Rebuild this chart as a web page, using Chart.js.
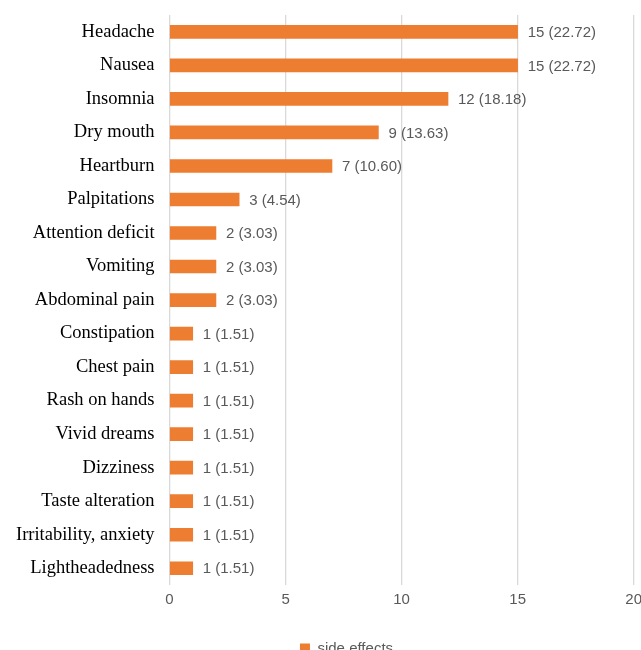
<!DOCTYPE html>
<html>
<head>
<meta charset="utf-8">
<script src="https://cdn.jsdelivr.net/npm/chart.js@4"></script>
<style>
  body { margin: 0; background: #fff; }
  #wrap { width: 641px; height: 650px; overflow: hidden; }
  #sideChart { display: block; margin-top: -3px; }
</style>
</head>
<body>
<div id="wrap"><canvas id="sideChart" width="648" height="669"></canvas></div>
<script>
// Side effects data
const categories = ['Headache', 'Nausea', 'Insomnia', 'Dry mouth', 'Heartburn', 'Palpitations',
    'Attention deficit', 'Vomiting', 'Abdominal pain', 'Constipation', 'Chest pain', 'Rash on hands',
    'Vivid dreams', 'Dizziness', 'Taste alteration', 'Irritability, anxiety', 'Lightheadedness'];
const counts = [15, 15, 12, 9, 7, 3, 2, 2, 2, 1, 1, 1, 1, 1, 1, 1, 1];
const percents = ['22.72', '22.72', '18.18', '13.63', '10.60', '4.54', '3.03', '3.03', '3.03',
    '1.51', '1.51', '1.51', '1.51', '1.51', '1.51', '1.51', '1.51'];
const xTicks = [0, 5, 10, 15, 20];

const labelColor = '#595959';
const barColor = '#ED7D31';

// draws "n (pct)" after each bar
const valueLabels = {
    id: 'valueLabels',
    afterDatasetsDraw(chart) {
        const ctx = chart.ctx;
        const meta = chart.getDatasetMeta(0);
        ctx.save();
        ctx.font = '15px "Liberation Sans", Arial, sans-serif';
        ctx.fillStyle = labelColor;
        ctx.textAlign = 'left';
        ctx.textBaseline = 'middle';
        meta.data.forEach((bar, i) => {
            ctx.fillText(counts[i] + ' (' + percents[i] + ')', bar.x + 10, bar.y + 1);
        });
        ctx.restore();
    }
};

// legend in the original sits a bit right of centre
const legendShift = {
    id: 'legendShift',
    afterLayout(chart) {
        chart.legend.left += 18;
        chart.legend.right += 18;
    }
};

const sideCtx = document.getElementById('sideChart').getContext('2d');
const sideChart = new Chart(sideCtx, {
    type: 'bar',
    data: {
        labels: categories,
        datasets: [{
            label: 'side effects',
            data: counts,
            backgroundColor: barColor,
            borderWidth: 0,
            barThickness: 13
        }]
    },
    options: {
        indexAxis: 'y',
        responsive: false,
        animation: false,
        layout: {
            padding: { top: 0, right: 0, left: 9, bottom: 0 }
        },
        plugins: {
            legend: {
                display: true,
                position: 'bottom',
                labels: {
                    boxWidth: 10,
                    boxHeight: 10,
                    color: labelColor,
                    padding: 26,
                    font: { family: '"Liberation Sans", Arial, sans-serif', size: 15 }
                }
            },
            tooltip: { enabled: false }
        },
        scales: {
            x: {
                min: 0,
                max: 20,
                afterBuildTicks(axis) {
                    axis.ticks = xTicks.map(v => ({ value: v }));
                },
                grid: {
                    color: '#d9d9d9',
                    lineWidth: 1.3,
                    drawTicks: false
                },
                border: { display: false },
                ticks: {
                    color: labelColor,
                    padding: 6,
                    font: { family: '"Liberation Sans", Arial, sans-serif', size: 15 }
                }
            },
            y: {
                grid: { display: false },
                border: { display: false },
                ticks: {
                    color: '#000',
                    padding: 7,
                    font: { family: '"Liberation Serif", "Times New Roman", serif', size: 18.5 }
                }
            }
        }
    },
    plugins: [valueLabels, legendShift]
});
</script>
</body>
</html>
